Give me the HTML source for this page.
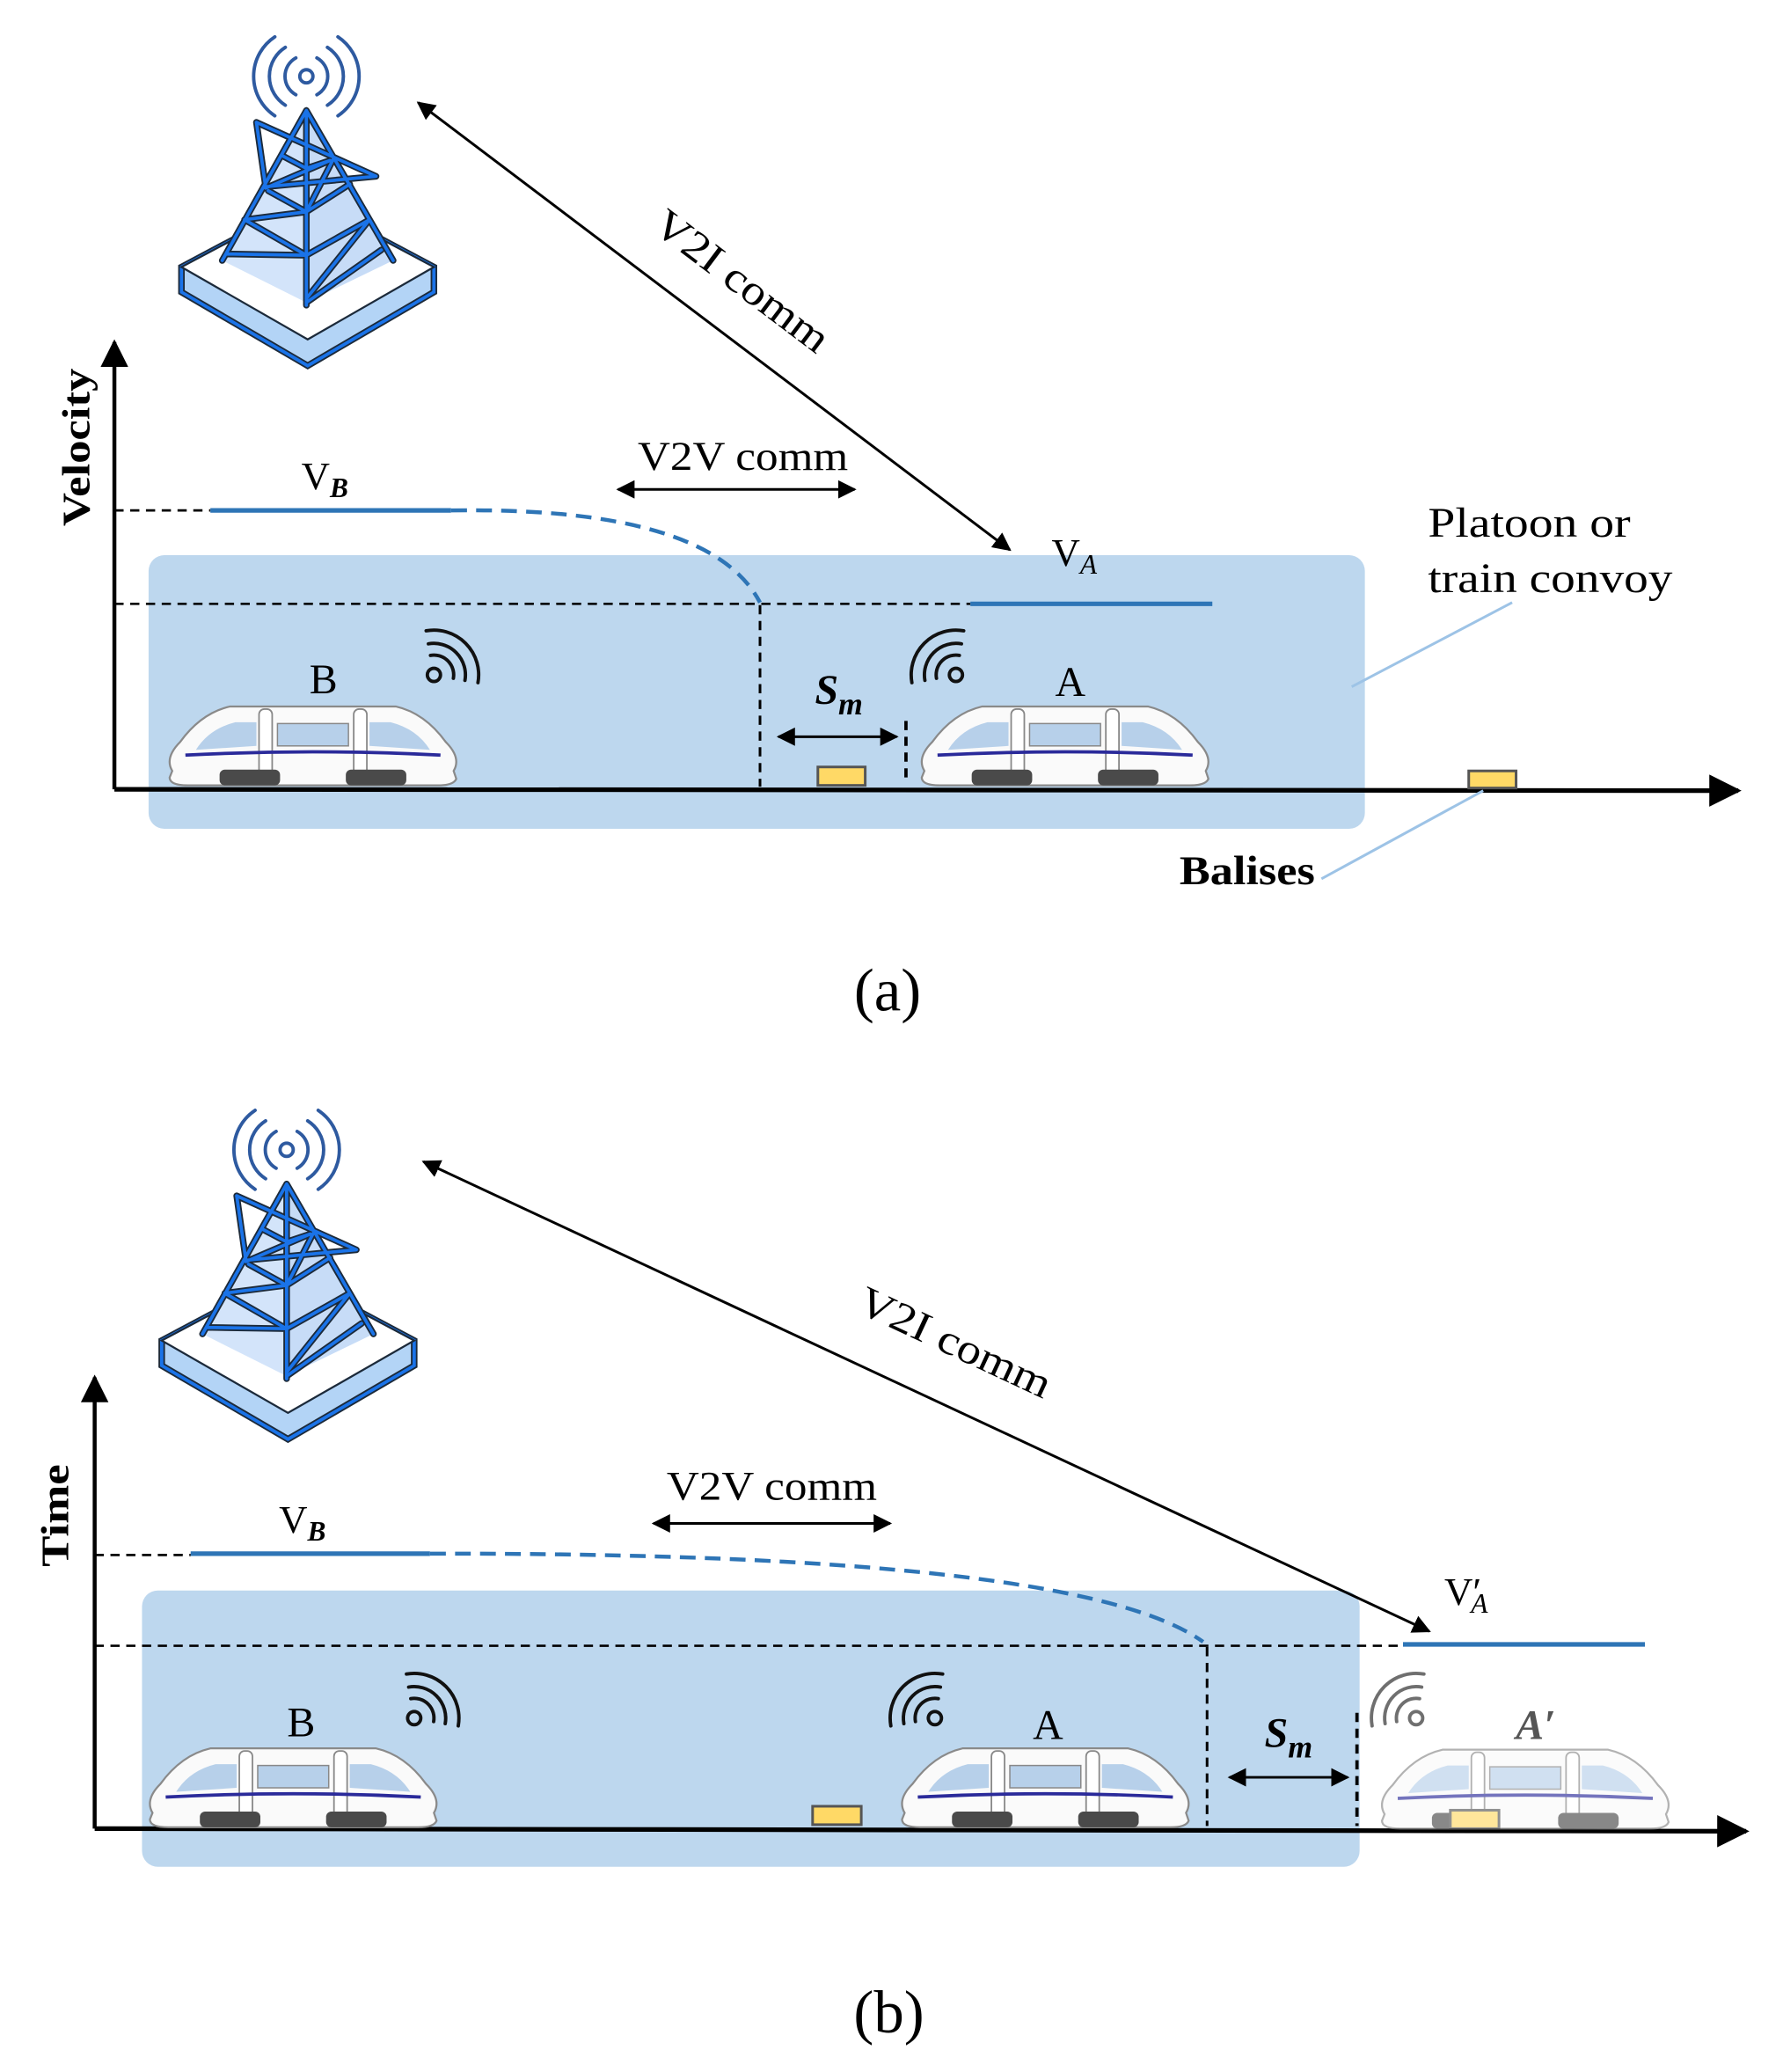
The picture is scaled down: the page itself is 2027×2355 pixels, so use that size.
<!DOCTYPE html>
<html><head><meta charset="utf-8"><style>
html,body{margin:0;padding:0;background:#fff;}
svg{display:block;}
text{font-family:"Liberation Serif",serif;fill:#000;}
</style></head><body>
<svg width="2027" height="2355" viewBox="0 0 1356 1575" preserveAspectRatio="none" xmlns="http://www.w3.org/2000/svg">
<defs>
<marker id="ah" viewBox="0 0 10 10" refX="9" refY="5" markerWidth="7" markerHeight="7" orient="auto-start-reverse"><path d="M0,0 L10,5 L0,10 Z" fill="#000"/></marker>
<g id="train">
<path d="M8,52 Q2,42 14,30 Q30,8 52,3 L178,3 Q200,8 216,30 Q228,42 222,52 L224,58 Q222,63 210,63 L20,63 Q6,63 6,57 Z" fill="#fafafa" stroke="#8a8a8a" stroke-width="1.5"/>
<path d="M26,36 Q36,20 56,15 L72,15 L72,33 Z" fill="#b7d0ea"/>
<path d="M204,36 Q194,20 174,15 L158,15 L158,33 Z" fill="#b7d0ea"/>
<rect x="88" y="16" width="54" height="17" fill="#b7d0ea" stroke="#888" stroke-width="1"/>
<rect x="74" y="5" width="10" height="53" rx="4" fill="#fff" stroke="#888" stroke-width="1.2"/>
<rect x="146" y="5" width="10" height="53" rx="4" fill="#fff" stroke="#888" stroke-width="1.2"/>
<path d="M18,40 Q115,35 212,40" stroke="#2a2a9a" stroke-width="2.5" fill="none"/>
<rect x="44" y="51" width="46" height="12" rx="4" fill="#4a4a4a"/>
<rect x="140" y="51" width="46" height="12" rx="4" fill="#4a4a4a"/>
</g>
<g id="wifi" fill="none" stroke="#111" stroke-width="2.6" stroke-linecap="round">
<circle cx="0" cy="0" r="5"/>
<path d="M-2.6,-14.8 A15,15 0 0 1 14.8,2.6"/>
<path d="M-4.2,-23.6 A24,24 0 0 1 23.6,4.2"/>
<path d="M-5.9,-33.5 A34,34 0 0 1 33.5,5.9"/>
</g>
<g id="tower">
<polygon points="138,203 234,152 330,203 330,222 234,278 138,222" fill="#b3d4f6" stroke="#1c2a3a" stroke-width="5"/>
<polygon points="138,203 234,152 330,203 330,222 234,278 138,222" fill="none" stroke="#1a73e8" stroke-width="2.5"/>
<polygon points="138,203 234,152 330,203 234,258" fill="#fff" stroke="#1c2a3a" stroke-width="1.5"/>
<polygon points="233,84 169,198 233,230" fill="#d3e4fa"/>
<polygon points="233,84 299,198 233,230" fill="#c7dcf7"/>
<g fill="none" stroke="#1c2a3a" stroke-width="5" stroke-linecap="round" stroke-linejoin="round">
<path d="M233,84 L169,198 M233,84 L299,198 M233,84 L233,232 M172,193 L233,194 L281,167 M233,227 L281,167 M195,93 L202,142 M195,93 L286,134 L202,142 M214,118 L233,128 L251,122 M202,143 L251,122 M204,145 L233,161 L266,140 M233,161 L254,120 M186,167 L233,161 M186,167 L233,194 M233,230 L290,190"/>
</g>
<g fill="none" stroke="#1a73e8" stroke-width="2.5" stroke-linecap="round" stroke-linejoin="round">
<path d="M233,84 L169,198 M233,84 L299,198 M233,84 L233,232 M172,193 L233,194 L281,167 M233,227 L281,167 M195,93 L202,142 M195,93 L286,134 L202,142 M214,118 L233,128 L251,122 M202,143 L251,122 M204,145 L233,161 L266,140 M233,161 L254,120 M186,167 L233,161 M186,167 L233,194 M233,230 L290,190"/>
</g>
<g fill="none" stroke="#2e5aa0" stroke-width="2.6" stroke-linecap="round">
<circle cx="233" cy="58" r="5"/>
<path d="M225,44 A16,16 0 0 0 225,72 M241,44 A16,16 0 0 1 241,72"/>
<path d="M217,36 A26,26 0 0 0 217,80 M249,36 A26,26 0 0 1 249,80"/>
<path d="M209,28 A36,36 0 0 0 209,88 M257,28 A36,36 0 0 1 257,88"/>
</g>
</g>
</defs>

<!-- ===== Panel (a) ===== -->
<use href="#tower"/>
<rect x="113" y="422" width="925" height="208" rx="12" fill="#bdd7ee"/>
<line x1="87" y1="600" x2="87" y2="260" stroke="#000" stroke-width="3" marker-end="url(#ah)"/>
<line x1="87" y1="600" x2="1322" y2="601" stroke="#000" stroke-width="3.5" marker-end="url(#ah)"/>
<text x="68" y="340" font-size="30" font-weight="bold" text-anchor="middle" textLength="120" lengthAdjust="spacingAndGlyphs" transform="rotate(-90 68 340)">Velocity</text>
<line x1="87" y1="388" x2="160" y2="388" stroke="#000" stroke-width="1.8" stroke-dasharray="7,5"/>
<line x1="160" y1="388" x2="343" y2="388" stroke="#2e75b6" stroke-width="3.5"/>
<path d="M343,388 Q540,385 578,458" fill="none" stroke="#2e75b6" stroke-width="3" stroke-dasharray="12,7"/>
<line x1="87" y1="459" x2="738" y2="459" stroke="#000" stroke-width="1.8" stroke-dasharray="7,5"/>
<line x1="738" y1="459" x2="922" y2="459" stroke="#2e75b6" stroke-width="3.5"/>
<line x1="578" y1="460" x2="578" y2="598" stroke="#000" stroke-width="2" stroke-dasharray="7,5"/>
<line x1="689" y1="548" x2="689" y2="596" stroke="#000" stroke-width="2.5" stroke-dasharray="7,5"/>
<line x1="592" y1="560" x2="682" y2="560" stroke="#000" stroke-width="2" marker-start="url(#ah)" marker-end="url(#ah)"/>
<text x="638" y="535" font-size="32" font-weight="bold" font-style="italic" text-anchor="middle">S<tspan font-size="24" dy="8">m</tspan></text>
<rect x="622" y="583" width="36" height="14" fill="#ffd966" stroke="#555" stroke-width="2"/>
<rect x="1117" y="586" width="36" height="13" fill="#ffd966" stroke="#555" stroke-width="2"/>
<text x="247" y="372" font-size="30" text-anchor="middle">V<tspan font-size="21" font-style="italic" font-weight="bold" dy="6">B</tspan></text>
<text x="817" y="430" font-size="30" text-anchor="middle">V<tspan font-size="21" font-style="italic" dy="6">A</tspan></text>
<text x="485" y="357" font-size="31" textLength="160" lengthAdjust="spacingAndGlyphs">V2V comm</text>
<line x1="470" y1="372" x2="650" y2="372" stroke="#000" stroke-width="2" marker-start="url(#ah)" marker-end="url(#ah)"/>
<line x1="318" y1="78" x2="768" y2="418" stroke="#000" stroke-width="2" marker-start="url(#ah)" marker-end="url(#ah)"/>
<text x="558" y="222" font-size="32" text-anchor="middle" textLength="158" lengthAdjust="spacingAndGlyphs" transform="rotate(37 558 222)">V2I comm</text>
<text x="1086" y="408" font-size="32" textLength="154" lengthAdjust="spacingAndGlyphs">Platoon or</text>
<text x="1086" y="450" font-size="32" textLength="186" lengthAdjust="spacingAndGlyphs">train convoy</text>
<line x1="1150" y1="458" x2="1028" y2="522" stroke="#9dc3e6" stroke-width="2"/>
<text x="897" y="672" font-size="31" font-weight="bold" textLength="103" lengthAdjust="spacingAndGlyphs">Balises</text>
<line x1="1005" y1="668" x2="1128" y2="601" stroke="#9dc3e6" stroke-width="2"/>
<use href="#wifi" transform="translate(330,513)"/>
<use href="#wifi" transform="translate(727,513) scale(-1,1)"/>
<use href="#train" transform="translate(123,534)"/>
<use href="#train" transform="translate(695,534)"/>
<text x="246" y="527" font-size="32" text-anchor="middle">B</text>
<text x="814" y="529" font-size="32" text-anchor="middle">A</text>
<text x="675" y="768" font-size="46" text-anchor="middle">(a)</text>

<!-- ===== Panel (b) ===== -->
<use href="#tower" transform="translate(-15,816)"/>
<rect x="108" y="1209" width="926" height="210" rx="12" fill="#bdd7ee"/>
<line x1="72" y1="1390" x2="72" y2="1047" stroke="#000" stroke-width="3" marker-end="url(#ah)"/>
<line x1="72" y1="1390" x2="1328" y2="1392" stroke="#000" stroke-width="3.5" marker-end="url(#ah)"/>
<text x="52" y="1152" font-size="30" font-weight="bold" text-anchor="middle" textLength="78" lengthAdjust="spacingAndGlyphs" transform="rotate(-90 52 1152)">Time</text>
<line x1="72" y1="1182" x2="145" y2="1182" stroke="#000" stroke-width="1.8" stroke-dasharray="7,5"/>
<line x1="145" y1="1181" x2="327" y2="1181" stroke="#2e75b6" stroke-width="3.5"/>
<path d="M327,1181 Q820,1180 915,1248" fill="none" stroke="#2e75b6" stroke-width="3" stroke-dasharray="12,7"/>
<line x1="72" y1="1251" x2="1063" y2="1251" stroke="#000" stroke-width="1.8" stroke-dasharray="7,5"/>
<line x1="1067" y1="1250" x2="1251" y2="1250" stroke="#2e75b6" stroke-width="3.5"/>
<line x1="918" y1="1252" x2="918" y2="1388" stroke="#000" stroke-width="2" stroke-dasharray="7,5"/>
<line x1="1032" y1="1302" x2="1032" y2="1388" stroke="#000" stroke-width="2.5" stroke-dasharray="7,5"/>
<line x1="935" y1="1351" x2="1025" y2="1351" stroke="#000" stroke-width="2" marker-start="url(#ah)" marker-end="url(#ah)"/>
<text x="980" y="1328" font-size="32" font-weight="bold" font-style="italic" text-anchor="middle">S<tspan font-size="24" dy="8">m</tspan></text>
<rect x="618" y="1373" width="37" height="14" fill="#ffd966" stroke="#555" stroke-width="2"/>
<text x="230" y="1165" font-size="30" text-anchor="middle">V<tspan font-size="21" font-style="italic" font-weight="bold" dy="6">B</tspan></text>
<text x="1115" y="1220" font-size="30" text-anchor="middle">V′<tspan font-size="21" font-style="italic" dy="6" dx="-8">A</tspan></text>
<text x="507" y="1140" font-size="31" textLength="160" lengthAdjust="spacingAndGlyphs">V2V comm</text>
<line x1="497" y1="1158" x2="677" y2="1158" stroke="#000" stroke-width="2" marker-start="url(#ah)" marker-end="url(#ah)"/>
<line x1="322" y1="883" x2="1087" y2="1240" stroke="#000" stroke-width="2" marker-start="url(#ah)" marker-end="url(#ah)"/>
<text x="722" y="1030" font-size="32" text-anchor="middle" textLength="158" lengthAdjust="spacingAndGlyphs" transform="rotate(25 722 1030)">V2I comm</text>
<use href="#wifi" transform="translate(315,1306)"/>
<use href="#wifi" transform="translate(711,1306) scale(-1,1)"/>
<g opacity="0.6"><use href="#wifi" transform="translate(1077,1306) scale(-1,1)"/></g>
<use href="#train" transform="translate(108,1326)"/>
<use href="#train" transform="translate(680,1326)"/>
<g opacity="0.65"><use href="#train" transform="translate(1045,1327)"/>
<rect x="1103" y="1376" width="37" height="14" fill="#ffd966" stroke="#555" stroke-width="2"/></g>
<text x="229" y="1320" font-size="32" text-anchor="middle">B</text>
<text x="797" y="1322" font-size="32" text-anchor="middle">A</text>
<text x="1168" y="1322" font-size="32" font-style="italic" font-weight="bold" text-anchor="middle" style="fill:#555">A′</text>
<text x="676" y="1545" font-size="46" text-anchor="middle">(b)</text>
</svg>
</body></html>
